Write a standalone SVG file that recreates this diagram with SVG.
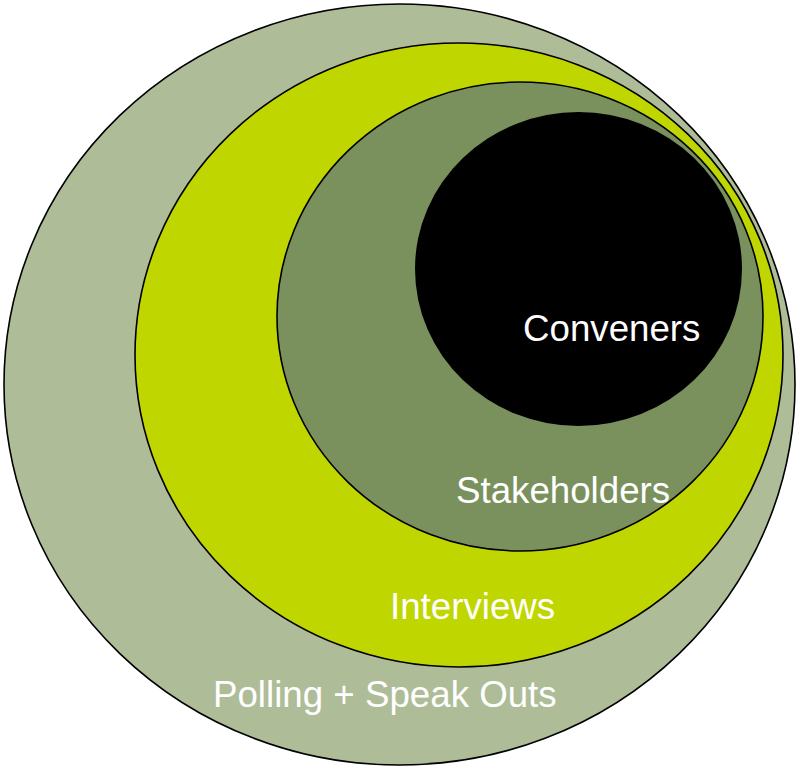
<svg xmlns="http://www.w3.org/2000/svg" width="796" height="767" viewBox="0 0 796 767">
<style>
.ring{stroke:#000;stroke-width:1.6}
.lbl{font-family:"Liberation Sans",Arial,sans-serif;font-size:36.7px;fill:#fff}
</style>
<rect width="796" height="767" fill="#fff"/>
<g id="polling">
<ellipse class="ring" cx="399.5" cy="384.5" rx="395.5" ry="380.5" fill="#AEBD98"/>
<text class="lbl" x="213" y="707">Polling + Speak Outs</text>
</g>
<g id="interviews">
<ellipse class="ring" cx="459" cy="355" rx="324" ry="312" fill="#BFD600"/>
<text class="lbl" x="390" y="619">Interviews</text>
</g>
<g id="stakeholders">
<ellipse class="ring" cx="520" cy="316.5" rx="243" ry="234.5" fill="#7A915E"/>
<text class="lbl" x="456" y="503">Stakeholders</text>
</g>
<g id="conveners">
<ellipse cx="578.5" cy="269" rx="163.5" ry="157" fill="#000"/>
<text class="lbl" x="523" y="341">Conveners</text>
</g>
<g id="connectors"></g>
</svg>
